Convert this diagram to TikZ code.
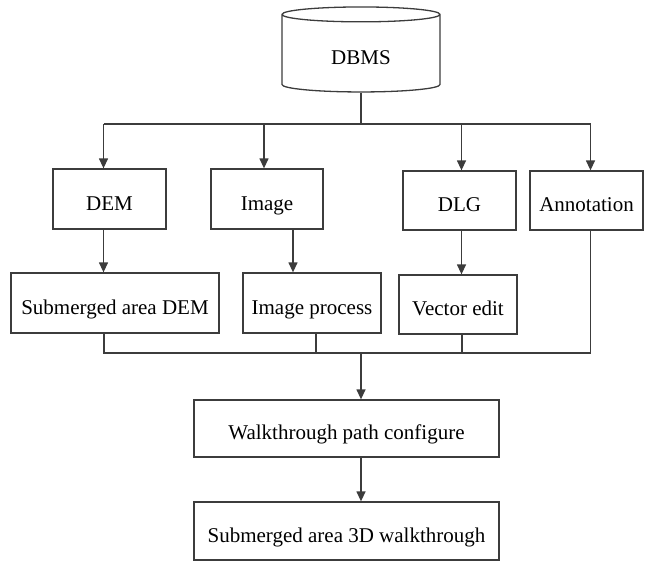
\documentclass[tikz,border=0pt]{standalone}
\usepackage{fontspec}
\setmainfont{Liberation Serif}
\usetikzlibrary{shapes.geometric,arrows.meta}
\tikzset{
    box/.style={draw=linegray, line width=1.3pt, fill=white, inner sep=0pt,
                text height=24pt, text depth=2pt},
    arr/.style={draw=linegray, line width=1.3pt, -{Triangle[length=10pt,width=9pt]}},
    wire/.style={draw=linegray, line width=1.3pt},
}
\definecolor{linegray}{HTML}{3C3C3C}
\begin{document}
\begin{tikzpicture}[x=1pt,y=-1pt,font=\fontsize{21}{24}\selectfont]
    \useasboundingbox (0,0) rectangle (645,563);
    %database
    \node[cylinder, shape border rotate=90, draw=linegray, line width=1.3pt, aspect=0.25,
          minimum width=158pt, minimum height=85pt, inner sep=0pt] (dbms) at (361,53.5) {\phantom{DBMS}};
    \node (dbmstxt) at (361,58) {DBMS};
    %data layers
    \node[box, minimum width=113pt, minimum height=60pt] (dem) at (109.5,199) {DEM};
    \node[box, minimum width=112pt, minimum height=60pt] (image) at (267,199) {Image};
    \node[box, minimum width=113pt, minimum height=59pt] (dlg) at (459.5,200.5) {DLG};
    \node[box, minimum width=113pt, minimum height=59pt] (annot) at (586.5,200.5) {Annotation};
    %processing
    \node[box, minimum width=208pt, minimum height=60pt] (subdem) at (115,303) {Submerged area DEM};
    \node[box, minimum width=138pt, minimum height=60pt] (improc) at (312,303) {Image process};
    \node[box, minimum width=118pt, minimum height=59pt] (vecedit) at (458,304.5) {Vector edit};
    %output
    \node[box, minimum width=305pt, minimum height=57pt] (walkpath) at (346.5,428.5) {Walkthrough path configure};
    \node[box, minimum width=305pt, minimum height=58pt] (walk3d) at (346.5,531) {Submerged area 3D walkthrough};
    %top bus
    \coordinate (topbus) at (361,124);
    \draw[wire] (dbms.bottom) -- (topbus);
    \draw[wire] ([xshift=-6pt]dem.north |- topbus) -- ([xshift=4pt]annot.north |- topbus);
    \draw[arr] ([xshift=-6pt]dem.north |- topbus) -- ([xshift=-6pt]dem.north);
    \draw[arr] ([xshift=-3pt]image.north |- topbus) -- ([xshift=-3pt]image.north);
    \draw[arr] ([xshift=2pt]dlg.north |- topbus) -- ([xshift=2pt]dlg.north);
    \draw[arr] ([xshift=4pt]annot.north |- topbus) -- ([xshift=4pt]annot.north);
    %layer to process
    \draw[arr] ([xshift=-6pt]dem.south) -- ([xshift=-6pt]dem.south |- subdem.north);
    \draw[arr] ([xshift=26pt]image.south) -- ([xshift=26pt]image.south |- improc.north);
    \draw[arr] ([xshift=2pt]dlg.south) -- ([xshift=2pt]dlg.south |- vecedit.north);
    %bottom bus
    \coordinate (botbus) at (361,353);
    \draw[wire] ([xshift=-11pt]subdem.south) -- ([xshift=-11pt]subdem.south |- botbus)
        -| ([xshift=4pt]annot.south);
    \draw[wire] ([xshift=4pt]improc.south) -- ([xshift=4pt]improc.south |- botbus);
    \draw[wire] ([xshift=4pt]vecedit.south) -- ([xshift=4pt]vecedit.south |- botbus);
    \draw[arr] (botbus) -- (botbus |- walkpath.north);
    \draw[arr] (walkpath.south -| botbus) -- (walk3d.north -| botbus);
\end{tikzpicture}
\end{document}
